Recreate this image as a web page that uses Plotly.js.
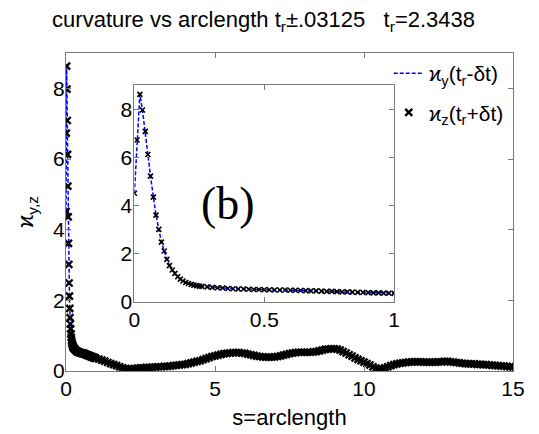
<!DOCTYPE html>
<html>
<head>
<meta charset="utf-8">
<script src="https://cdn.plot.ly/plotly-3.0.1.min.js"></script>
<style>html,body{margin:0;padding:0;background:#fff;}#chart{width:539px;height:434px;}</style>
</head>
<body>
<div id="chart"></div>
<script>
// arclength samples
var sArc = [
  0.000,0.010,0.021,0.031,0.042,0.052,0.062,0.073,0.083,0.094,0.104,0.115,0.125,0.135,0.146,0.156,0.167,0.177,0.187,0.198,0.208,0.219,0.229,0.240,0.250,
  0.26,0.28,0.30,0.32,0.34,0.36,0.38,0.40,0.42,0.44,0.46,0.48,0.50,0.52,0.54,0.56,0.58,0.60,0.62,0.64,0.66,0.68,0.70,0.72,0.74,0.76,0.78,0.80,0.82,0.84,0.86,0.88,0.90,0.92,0.94,0.96,0.98,1.00,
  1.1,1.2,1.3,1.4,1.5,1.6,1.7,1.8,1.9,2.0,2.1,2.2,2.3,2.4,2.5,2.6,2.7,2.8,2.9,3.0,
  3.1,3.2,3.3,3.4,3.5,3.6,3.7,3.8,3.9,4.0,4.1,4.2,4.3,4.4,4.5,4.6,4.7,4.8,4.9,5.0,
  5.1,5.2,5.3,5.4,5.5,5.6,5.7,5.8,5.9,6.0,6.1,6.2,6.3,6.4,6.5,6.6,6.7,6.8,6.9,7.0,
  7.1,7.2,7.3,7.4,7.5,7.6,7.7,7.8,7.9,8.0,8.1,8.2,8.3,8.4,8.5,8.6,8.7,8.8,8.9,9.0,
  9.1,9.2,9.3,9.4,9.5,9.6,9.7,9.8,9.9,10.0,10.1,10.2,10.3,10.4,10.5,10.6,10.7,10.8,10.9,11.0,
  11.1,11.2,11.3,11.4,11.5,11.6,11.7,11.8,11.9,12.0,12.1,12.2,12.3,12.4,12.5,12.6,12.7,12.8,12.9,13.0,
  13.1,13.2,13.3,13.4,13.5,13.6,13.7,13.8,13.9,14.0,14.1,14.2,14.3,14.4,14.5,14.6,14.7,14.8,14.9,15.0
];
// curvature kappa_y at t_r - dt
var kappaY = [
  4.52,6.73,8.63,7.98,7.09,6.13,5.23,4.36,3.61,3.02,2.49,2.12,1.77,1.51,1.33,1.19,1.05,0.95,0.87,0.81,0.77,0.73,0.70,0.68,0.66,
  0.65,0.63,0.61,0.59,0.58,0.56,0.55,0.54,0.54,0.53,0.52,0.52,0.51,0.51,0.50,0.50,0.50,0.49,0.49,0.48,0.47,0.46,0.46,0.45,0.44,0.44,0.43,0.42,0.42,0.41,0.40,0.40,0.39,0.38,0.38,0.37,0.37,0.36,
  0.34,0.31,0.28,0.24,0.21,0.18,0.15,0.12,0.09,0.07,0.06,0.06,0.07,0.08,0.09,0.09,0.10,0.10,0.11,0.11,
  0.12,0.12,0.13,0.13,0.14,0.15,0.16,0.17,0.18,0.19,0.21,0.23,0.25,0.27,0.29,0.32,0.35,0.38,0.41,0.43,
  0.45,0.47,0.49,0.50,0.51,0.52,0.52,0.52,0.51,0.50,0.48,0.46,0.44,0.42,0.41,0.40,0.39,0.39,0.39,0.40,
  0.41,0.43,0.45,0.47,0.49,0.51,0.52,0.53,0.53,0.53,0.53,0.53,0.54,0.55,0.57,0.59,0.61,0.62,0.63,0.63,
  0.62,0.59,0.55,0.51,0.46,0.42,0.37,0.33,0.29,0.25,0.21,0.17,0.12,0.08,0.06,0.06,0.09,0.12,0.15,0.18,
  0.20,0.22,0.23,0.24,0.25,0.26,0.26,0.26,0.26,0.25,0.25,0.25,0.25,0.25,0.26,0.26,0.27,0.27,0.26,0.25,
  0.24,0.23,0.22,0.21,0.20,0.20,0.20,0.19,0.19,0.18,0.18,0.17,0.16,0.16,0.15,0.14,0.14,0.13,0.12,0.11
];
// curvature kappa_z at t_r + dt
var kappaZ = [
  4.52,6.73,8.63,7.98,7.09,6.13,5.23,4.36,3.61,3.02,2.49,2.12,1.77,1.51,1.33,1.19,1.05,0.95,0.87,0.81,0.77,0.73,0.70,0.68,0.66,
  0.65,0.63,0.61,0.59,0.58,0.56,0.55,0.54,0.54,0.53,0.52,0.52,0.51,0.51,0.50,0.50,0.50,0.49,0.49,0.48,0.47,0.46,0.46,0.45,0.44,0.44,0.43,0.42,0.42,0.41,0.40,0.40,0.39,0.38,0.38,0.37,0.37,0.36,
  0.34,0.31,0.28,0.24,0.21,0.18,0.15,0.12,0.09,0.07,0.06,0.06,0.07,0.08,0.09,0.09,0.10,0.10,0.11,0.11,
  0.12,0.12,0.13,0.13,0.14,0.15,0.16,0.17,0.18,0.19,0.21,0.23,0.25,0.27,0.29,0.32,0.35,0.38,0.41,0.43,
  0.45,0.47,0.49,0.50,0.51,0.52,0.52,0.52,0.51,0.50,0.48,0.46,0.44,0.42,0.41,0.40,0.39,0.39,0.39,0.40,
  0.41,0.43,0.45,0.47,0.49,0.51,0.52,0.53,0.53,0.53,0.53,0.53,0.54,0.55,0.57,0.59,0.61,0.62,0.63,0.63,
  0.62,0.59,0.55,0.51,0.46,0.42,0.37,0.33,0.29,0.25,0.21,0.17,0.12,0.08,0.06,0.06,0.09,0.12,0.15,0.18,
  0.20,0.22,0.23,0.24,0.25,0.26,0.26,0.26,0.26,0.25,0.25,0.25,0.25,0.25,0.26,0.26,0.27,0.27,0.26,0.25,
  0.24,0.23,0.22,0.21,0.20,0.20,0.20,0.19,0.19,0.18,0.18,0.17,0.16,0.16,0.15,0.14,0.14,0.13,0.12,0.11
];
var mainXTicks = [0, 5, 10, 15];
var mainYTicks = [0, 2, 4, 6, 8];
var insetXTicks = [0, 0.5, 1];
var insetXLabels = ['0', '0.5', '1'];
var insetYTicks = [0, 2, 4, 6, 8];
var nameY = 'ϰ<sub>y</sub>(t<sub>r</sub>-δt)';
var nameZ = 'ϰ<sub>z</sub>(t<sub>r</sub>+δt)';

var FONT = 'Liberation Sans, Arial, sans-serif';
var AX = '#7a7a7a';
var lineStyle = {color: '#0000ff', width: 1.5, dash: '4px,2px'};
var mainMark = {symbol: 'x-thin', size: 7, color: '#000', line: {color: '#000', width: 2.4}};
var insetMark = {symbol: 'x-thin', size: 5, color: '#000', line: {color: '#000', width: 1.6}};

var traces = [
  {x: sArc, y: kappaY, type: 'scatter', mode: 'lines', name: nameY, line: lineStyle, legendgroup: 'a', xaxis: 'x', yaxis: 'y'},
  {x: sArc, y: kappaZ, type: 'scatter', mode: 'markers', name: nameZ, marker: mainMark, legendgroup: 'b', xaxis: 'x', yaxis: 'y'},
  {x: sArc, y: kappaY, type: 'scatter', mode: 'lines', line: lineStyle, showlegend: false, xaxis: 'x2', yaxis: 'y2'},
  {x: sArc, y: kappaZ, type: 'scatter', mode: 'markers', marker: insetMark, showlegend: false, xaxis: 'x2', yaxis: 'y2'}
];

function axisBase() {
  return {showline: true, linecolor: AX, linewidth: 1, mirror: 'ticks', ticks: 'inside', ticklen: 5,
          tickcolor: AX, tickwidth: 1, showgrid: false, zeroline: false,
          tickfont: {family: FONT, size: 21, color: '#000'}};
}

var xa = axisBase();
Object.assign(xa, {range: [0, 15], tickvals: mainXTicks, domain: [0, 1], anchor: 'y', ticklabelstandoff: -1,
  title: {text: 's=arclength', font: {family: FONT, size: 22, color: '#000'}, standoff: 10}});
var ya = axisBase();
Object.assign(ya, {range: [0, 9], tickvals: mainYTicks, domain: [0, 1], anchor: 'x', ticklabelstandoff: -4,
  title: {text: 'ϰ<sub>y,z</sub>', font: {family: FONT, size: 22, color: '#000'}, standoff: 13}});
var xa2 = axisBase();
Object.assign(xa2, {range: [0, 1], tickvals: insetXTicks, ticktext: insetXLabels, domain: [0.153, 0.734], anchor: 'y2', ticklabelstandoff: -1});
var ya2 = axisBase();
Object.assign(ya2, {range: [0, 9], tickvals: insetYTicks, domain: [0.217, 0.898], anchor: 'x2', ticklabelstandoff: -3});

var layout = {
  width: 539, height: 434,
  margin: {l: 66, r: 26, t: 53, b: 63},
  paper_bgcolor: '#fff', plot_bgcolor: '#fff',
  font: {family: FONT, color: '#000'},
  title: {text: 'curvature vs arclength t<sub>r</sub>±.03125\u00a0\u00a0\u00a0t<sub>r</sub>=2.3438',
          font: {family: FONT, size: 22, color: '#000'}, x: 0.489, xanchor: 'center', y: 0.955, yanchor: 'middle'},
  xaxis: xa, yaxis: ya, xaxis2: xa2, yaxis2: ya2,
  showlegend: true,
  legend: {x: 0.722, xanchor: 'left', y: 1.0, yanchor: 'top', bgcolor: 'rgba(0,0,0,0)', borderwidth: 0,
           font: {family: FONT, size: 21, color: '#000'}, tracegroupgap: 9},
  annotations: [{xref: 'x2', yref: 'y2', x: 0.36, y: 4.1, text: '(b)', showarrow: false,
                 font: {family: 'Liberation Serif, Times New Roman, serif', size: 46, color: '#000'}}]
};

Plotly.newPlot('chart', traces, layout, {displayModeBar: false, staticPlot: true});
</script>
</body>
</html>
